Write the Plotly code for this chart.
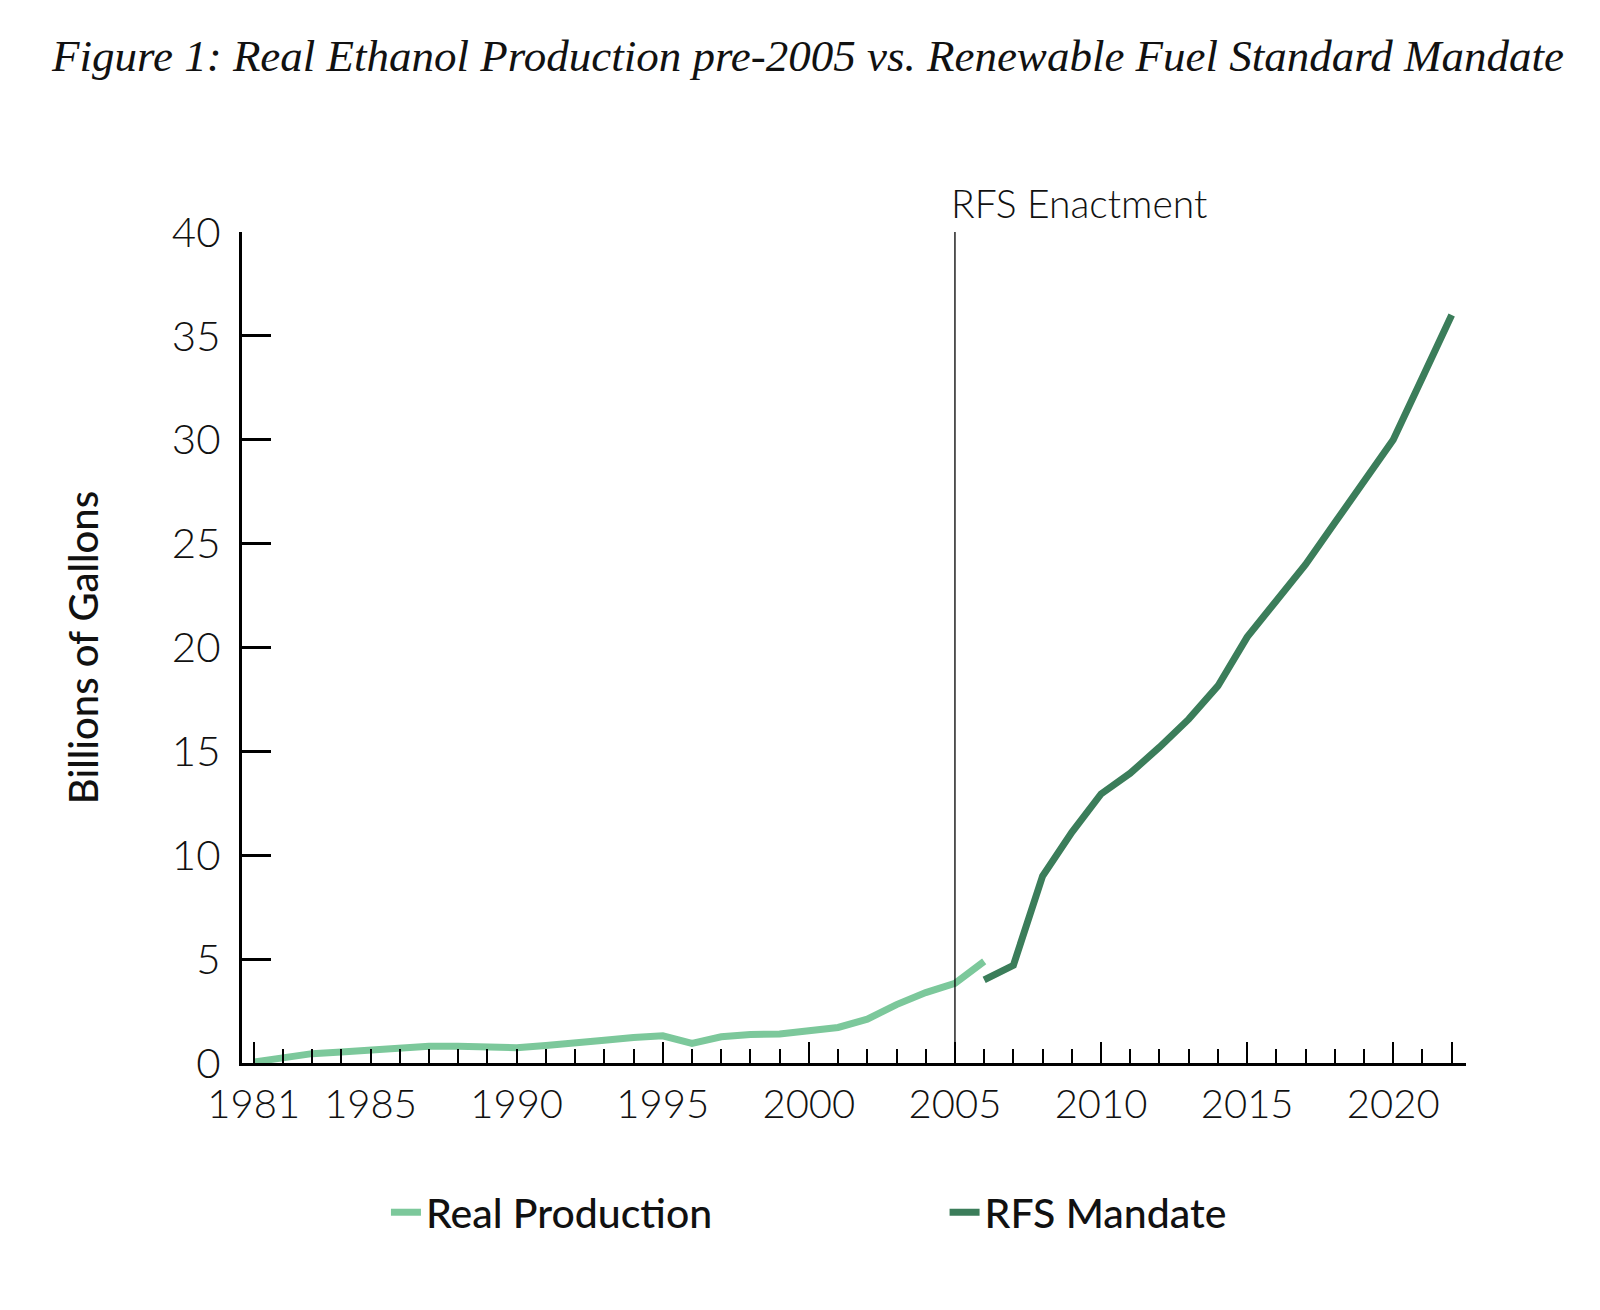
import plotly.graph_objects as go

# ---- data ----
prod_years = list(range(1981, 2007))
prod_values = [0.05, 0.25, 0.45, 0.53, 0.63, 0.71, 0.81, 0.81, 0.81, 0.74,
               0.84, 0.94, 1.10, 1.23, 1.31, 0.94, 1.26, 1.37, 1.40, 1.55,
               1.71, 2.11, 2.81, 3.39, 3.84, 4.89]

rfs_years = list(range(2006, 2023))
rfs_values = [4.0, 4.7, 9.0, 11.1, 12.95, 13.95, 15.2, 16.55, 18.15, 20.5,
              22.25, 24.0, 26.0, 28.0, 30.0, 33.0, 36.0]

label_years = [1981, 1985, 1990, 1995, 2000, 2005, 2010, 2015, 2020]
long_tick_years = [1981, 1995, 2000, 2005, 2010, 2015, 2020, 2022]
y_ticks = [0, 5, 10, 15, 20, 25, 30, 35, 40]
enactment_year = 2005

title_text = "Figure 1: Real Ethanol Production pre-2005 vs. Renewable Fuel Standard Mandate"

LIGHT = "#7CC89B"
DARK = "#3B7D5A"
SANS = "Lato"
XR = [1980.6, 2022.49]

fig = go.Figure()
fig.add_trace(go.Scatter(x=prod_years, y=prod_values, mode="lines", name="Real Production",
                         line=dict(color=LIGHT, width=7), legend="legend"))
fig.add_trace(go.Scatter(x=rfs_years, y=rfs_values, mode="lines", name="RFS Mandate",
                         line=dict(color=DARK, width=7), legend="legend2"))

fig.add_vline(x=enactment_year, line=dict(color="black", width=1.3))
fig.add_annotation(x=enactment_year, y=1, xref="x", yref="y domain",
                   text="RFS Enactment", showarrow=False, xanchor="left", yanchor="bottom",
                   xshift=-6, yshift=4,
                   font=dict(family=SANS, size=39, color="#111", weight=300))

legend_font = dict(family=SANS, size=41, color="#111", weight=500)

fig.update_layout(
    width=1600, height=1310,
    paper_bgcolor="white", plot_bgcolor="white",
    margin=dict(l=234, r=142, t=224, b=255),
    title=dict(text=title_text, x=0.5, xanchor="center", y=0.964, yanchor="middle",
               font=dict(family="Liberation Serif", size=45, color="#111", style="italic")),
    showlegend=True,
    legend=dict(orientation="h", x=0.1176, xanchor="left", y=-0.18, yanchor="middle",
                font=legend_font, bgcolor="rgba(0,0,0,0)"),
    legend2=dict(orientation="h", x=0.574, xanchor="left", y=-0.18, yanchor="middle",
                 font=legend_font, bgcolor="rgba(0,0,0,0)"),
    xaxis=dict(range=XR, showgrid=False, zeroline=False,
               showline=True, linecolor="black", linewidth=3,
               tickmode="array", tickvals=long_tick_years, ticks="inside", ticklen=21,
               tickwidth=1.6, tickcolor="black", showticklabels=False,
               minor=dict(tickmode="array", tickvals=list(range(1981, 2023)),
                          ticks="inside", ticklen=14, tickwidth=1.6, tickcolor="black")),
    xaxis2=dict(range=XR, overlaying="x", anchor="y", side="bottom", showgrid=False,
                zeroline=False, showline=False, ticks="",
                tickmode="array", tickvals=label_years,
                ticktext=[str(v) for v in label_years], ticklabelstandoff=14,
                tickfont=dict(family=SANS, size=40, color="#111", weight=300)),
    yaxis=dict(range=[0, 40], showgrid=False, zeroline=False,
               showline=True, linecolor="black", linewidth=3,
               tickmode="array", tickvals=y_ticks, ticks="inside", ticklen=29,
               tickwidth=3, tickcolor="black", ticklabelstandoff=10,
               tickfont=dict(family=SANS, size=42, color="#111", weight=300),
               title=dict(text="Billions of Gallons", standoff=61,
                          font=dict(family=SANS, size=40, color="#111", weight=500))),
)

# invisible helper trace so the label axis is drawn
fig.add_trace(go.Scatter(x=[XR[0]], y=[0], xaxis="x2", mode="markers",
                         marker=dict(opacity=0), showlegend=False, hoverinfo="skip"))

fig.write_html("out.html")
